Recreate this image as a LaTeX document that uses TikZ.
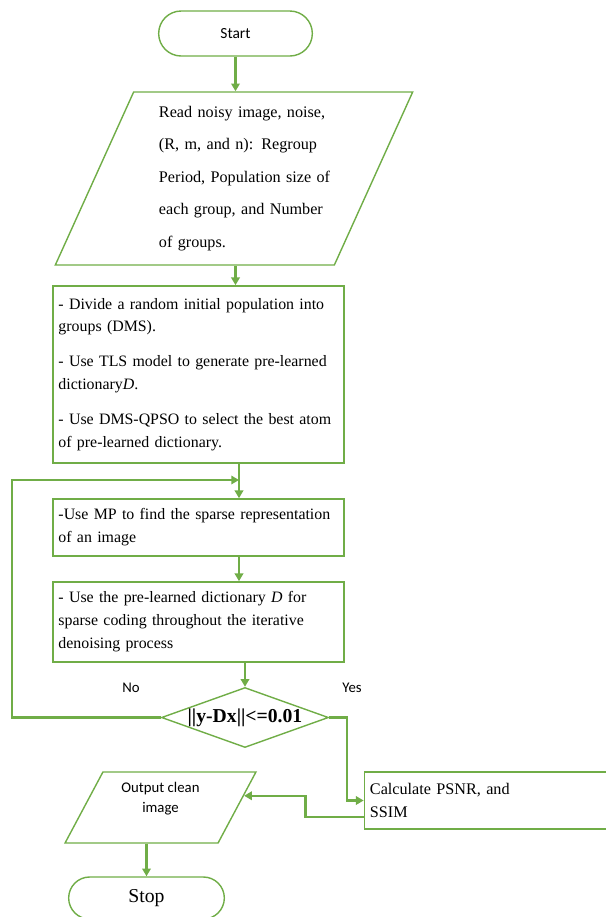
\documentclass[tikz,border=0pt]{standalone}
\usepackage{fontspec}
\setmainfont{Liberation Serif}
\newfontfamily\labelfont{Carlito}
\usetikzlibrary{shapes.geometric,shapes.misc,arrows.meta,calc}
\definecolor{flowgreen}{RGB}{112,173,71}

\begin{document}
\begin{tikzpicture}[x=0.025cm,y=-0.025cm,
  every node/.style={font=\fontsize{11.3}{16.3}\selectfont},
  term/.style={draw=flowgreen,line width=1pt,rounded rectangle},
  io/.style={draw=flowgreen,line width=1pt,trapezium,trapezium stretches=true},
  proc/.style={draw=flowgreen,line width=1.1pt,rectangle,align=left,text width=7cm,inner xsep=0.14cm},
  flow/.style={draw=flowgreen,line width=1.7pt,-{Triangle[length=5.5pt,width=6pt]}}]
\useasboundingbox (0,0) rectangle (606,917);
\clip (0,0) rectangle (606,917);

\node[term,minimum width=4.075cm,minimum height=1.125cm,font=\labelfont\fontsize{11}{13}\selectfont] (start) at (235.5,33.5) {Start};
\node[io,trapezium left angle=68,trapezium right angle=112,minimum width=8.95cm,minimum height=4.325cm,
  text width=3.75cm,align=left,font=\fontsize{11.5}{23.1}\selectfont] (read) at (234,178.5)
  {\mbox{Read noisy image, noise,}\\ \mbox{(R, m, and n): Regroup}\\ \mbox{Period, Population size of}\\
   \mbox{each group, and Number}\\ \mbox{of groups.}};
\node[proc,minimum height=4.425cm] (divide) at (198.5,374.5)
  {- Divide a random initial population into\\ groups (DMS).\\[8.5pt]
   - Use TLS model to generate pre-learned\\ dictionary\textit{D}.\\[8.5pt]
   - Use DMS-QPSO to select the best atom\\ of pre-learned dictionary.};
\node[proc,minimum height=1.425cm] (sparse) at (198.5,527.5)
  {-Use MP to find the sparse representation\\ of an image};
\node[proc,minimum height=2cm] (coding) at (198.5,622)
  {- Use the pre-learned dictionary \textit{D} for\\ sparse coding throughout the iterative\\ denoising process};
\node[diamond,draw=flowgreen,line width=1pt,shape aspect=2.78,inner sep=0pt,minimum width=4.175cm,minimum height=1.5cm,
  font=\bfseries\fontsize{14}{16}\selectfont] (check) at (245,717.5) {||y-Dx||<=0.01};
\node[font=\labelfont\fontsize{10.5}{12}\selectfont] (no) at (131,688) {No};
\node[font=\labelfont\fontsize{10.5}{12}\selectfont] (yes) at (352,688) {Yes};
\node[proc,text width=6cm,minimum height=1.425cm,line width=1pt,font=\fontsize{11.5}{16.3}\selectfont] (metric) at (490,800.5)
  {Calculate PSNR, and\\ SSIM};
\node[io,trapezium left angle=64,trapezium right angle=116,minimum width=4.775cm,minimum height=1.775cm,
  align=center,font=\labelfont\fontsize{10.5}{14}\selectfont] (output) at (160.5,807.5) {Output clean\\ image\\ \mbox{}};
\node[term,minimum width=4.125cm,minimum height=1.05cm,font=\fontsize{14}{16}\selectfont] (stop) at (146.5,898) {Stop};
\coordinate (spine) at (239,480);

\draw[flow] (start.south) -- (start.south |- read.north);
\draw[flow] (start.south |- read.south) -- (start.south |- divide.north);
\draw[flow] (spine |- divide.south) -- (spine |- sparse.north);
\draw[flow] (spine |- sparse.south) -- (spine |- coding.north);
\draw[flow] (check.north |- coding.south) -- (check.north);
\draw[flow] (check.west) -- ++(-149,0) |- (spine);
\draw[flow] (check.east) -- ++(18,0) |- (metric.west);
\draw[flow] ($(metric.west)+(0,16.5)$) -- ++(-58,0) |- (output.8);
\draw[flow] (output.south -| stop.north) -- (stop.north);
\end{tikzpicture}
\end{document}
